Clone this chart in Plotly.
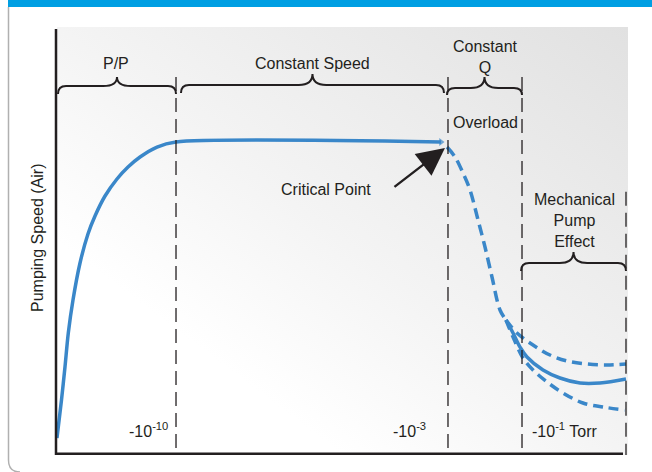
import base64
import plotly.graph_objects as go

# ---------------- data (abstract units: x = log-pressure position 0..100, y = pumping speed 0..100)
rise_x = [0.17, 0.96, 1.57, 2.15, 2.97, 4.20, 5.59, 6.82, 8.57, 10.66, 12.59, 14.69, 17.66, 20.98, 67.31]
rise_y = [3.97, 12.85, 20.56, 28.50, 36.21, 44.86, 51.64, 55.84, 60.51, 64.49, 67.29, 69.63, 71.96, 73.13, 73.13]

overload_x = [68.36, 69.76, 71.15, 72.38, 73.78, 75.00, 76.22, 77.62, 78.67]
overload_y = [71.96, 69.63, 65.89, 61.92, 54.91, 48.60, 41.59, 33.88, 31.54]

upper_x = [78.67, 80.59, 83.39, 86.36, 89.34, 92.83, 96.33, 99.65]
upper_y = [31.54, 28.50, 25.70, 23.36, 21.96, 21.26, 21.03, 21.26]

solid_x = [78.67, 79.90, 81.12, 82.34, 85.14, 88.11, 91.61, 95.10, 99.65]
solid_y = [31.54, 28.50, 25.23, 22.90, 19.86, 17.99, 16.82, 16.82, 17.76]

lower_x = [78.67, 79.90, 81.64, 83.39, 85.84, 88.64, 92.13, 95.63, 99.48]
lower_y = [31.54, 27.57, 22.66, 19.86, 17.06, 14.49, 12.15, 11.21, 10.51]

boundary_x = [20.98, 68.53, 81.47, 99.65]
pressure_labels = ["-10<sup>-10</sup>", "-10<sup>-3</sup>", "-10<sup>-1</sup> Torr"]

region_names = ["P/P", "Constant Speed", "Constant<br>Q", "Mechanical<br>Pump<br>Effect"]
region_start = [0.35, 21.85, 68.36, 81.3]
region_end = [20.98, 67.83, 81.47, 99.65]

critical_x, critical_y = 68.0, 71.73

# ---------------- styles
BLUE = "#3A87C9"
INK = "#231F20"
FONT = "Liberation Sans, Arial, Helvetica, sans-serif"
W, H = 652, 472
ML, MR, MT, MB = 56, 24, 27, 17
PW, PH = W - ML - MR, H - MT - MB


def px_x(px):
    return (px - ML) / PW


def px_y(py):
    return (H - MB - py) / PH


fig = go.Figure()

fig.add_trace(go.Scatter(x=rise_x, y=rise_y, mode="lines+markers",
                         line=dict(color=BLUE, width=3.5, shape="spline", smoothing=0.8),
                         marker=dict(symbol="triangle-right", size=[0] * (len(rise_x) - 1) + [7],
                                     color=BLUE, line=dict(width=0)),
                         hoverinfo="skip"))
fig.add_trace(go.Scatter(x=overload_x, y=overload_y, mode="lines",
                         line=dict(color=BLUE, width=3.5, dash="11px,6px", shape="spline"),
                         hoverinfo="skip"))
fig.add_trace(go.Scatter(x=upper_x, y=upper_y, mode="lines",
                         line=dict(color=BLUE, width=3.5, dash="10px,6px", shape="spline"),
                         hoverinfo="skip"))
fig.add_trace(go.Scatter(x=lower_x, y=lower_y, mode="lines",
                         line=dict(color=BLUE, width=3.5, dash="10px,6px", shape="spline"),
                         hoverinfo="skip"))
fig.add_trace(go.Scatter(x=solid_x, y=solid_y, mode="lines",
                         line=dict(color=BLUE, width=3.5, shape="spline"),
                         hoverinfo="skip"))

shapes = []
# header bar and frame
shapes.append(dict(type="rect", xref="paper", yref="paper", x0=px_x(8), x1=px_x(W + 2),
                   y0=px_y(7), y1=px_y(-2), fillcolor="#009FE3", line=dict(width=0), layer="below"))
shapes.append(dict(type="path", xref="paper", yref="paper",
                   path=f"M{px_x(8.5)},{px_y(7)} L{px_x(8.5)},{px_y(460)} Q{px_x(8.5)},{px_y(472)} {px_x(20)},{px_y(472)}",
                   line=dict(color="#B0B0B0", width=1.5)))
# axis lines
shapes.append(dict(type="line", xref="paper", yref="paper", x0=px_x(56), x1=px_x(56),
                   y0=px_y(29), y1=px_y(455), line=dict(color=INK, width=2.5)))
shapes.append(dict(type="line", xref="paper", yref="paper", x0=px_x(55), x1=px_x(623),
                   y0=px_y(453.8), y1=px_y(453.8), line=dict(color=INK, width=2.5)))
# region boundaries
tops = [88.3, 88.3, 88.3, 61.5]
for bx, top in zip(boundary_x, tops):
    shapes.append(dict(type="line", xref="x", yref="y", x0=bx, x1=bx, y0=top, y1=0,
                       line=dict(color=INK, width=1.3, dash="14px,7px")))


def brace(xa, xb, y_tip, y_bar, y_peak, r=1.4, rm=2.4):
    xm = (xa + xb) / 2
    return (f"M{xa},{y_tip} Q{xa},{y_bar} {xa + r},{y_bar} L{xm - rm},{y_bar} "
            f"Q{xm},{y_bar} {xm},{y_peak} Q{xm},{y_bar} {xm + rm},{y_bar} "
            f"L{xb - r},{y_bar} Q{xb},{y_bar} {xb},{y_tip}")


brace_y = [(84.35, 86.21, 88.32), (84.58, 86.45, 89.0), (84.11, 85.75, 88.32), (42.99, 44.86, 47.43)]
for xa, xb, (yt, yb, yp) in zip(region_start, region_end, brace_y):
    shapes.append(dict(type="path", xref="x", yref="y", path=brace(xa, xb, yt, yb, yp),
                       line=dict(color=INK, width=2)))

# gradient background
svg = ('<svg xmlns="http://www.w3.org/2000/svg" width="572" height="428" viewBox="0 0 572 428" '
       'preserveAspectRatio="none"><defs><linearGradient id="g" x1="0" y1="1" x2="1" y2="0">'
       '<stop offset="0" stop-color="#ffffff"/><stop offset="0.25" stop-color="#ffffff"/>'
       '<stop offset="0.5" stop-color="#f4f4f4"/><stop offset="1" stop-color="#e1e1e1"/>'
       '</linearGradient></defs><rect width="572" height="428" fill="url(#g)"/></svg>')
src = "data:image/svg+xml;base64," + base64.b64encode(svg.encode()).decode()

ann = []
tf = dict(family=FONT, size=16, color=INK)
label_pos = [(10.49, 91.36), (44.76, 91.36), (75.0, 93.1), (90.56, 54.9)]
for name, (lx, ly) in zip(region_names, label_pos):
    ann.append(dict(x=lx, y=ly, xref="x", yref="y", text=name, showarrow=False, font=tf))
ann.append(dict(x=75.0, y=77.8, xref="x", yref="y", text="Overload", showarrow=False, font=tf))
ann.append(dict(x=47.2, y=62.15, xref="x", yref="y", text="Critical Point", showarrow=False, font=tf))
ann.append(dict(x=critical_x, y=critical_y, xref="x", yref="y", text="", showarrow=True,
                ax=-52, ay=40, arrowhead=2, arrowsize=2.3, arrowwidth=2.4, arrowcolor=INK, standoff=0))
lab_x = [19.93, 65.03, 82.87]
anchors = ["right", "right", "left"]
for t, lx, an in zip(pressure_labels, lab_x, anchors):
    ann.append(dict(x=lx, y=5.84, xref="x", yref="y", text=t, showarrow=False, font=tf, xanchor=an))
ann.append(dict(x=px_x(37), y=px_y(238), xref="paper", yref="paper", text="Pumping Speed (Air)",
                textangle=-90, showarrow=False, font=tf, xanchor="center", yanchor="middle"))

fig.update_layout(
    width=W, height=H, margin=dict(l=ML, r=MR, t=MT, b=MB),
    paper_bgcolor="white", plot_bgcolor="rgba(0,0,0,0)", showlegend=False,
    xaxis=dict(range=[0, 100], visible=False, fixedrange=True),
    yaxis=dict(range=[0, 100], visible=False, fixedrange=True),
    shapes=shapes, annotations=ann,
    images=[dict(source=src, xref="paper", yref="paper", x=px_x(57), y=1, sizex=px_x(628) - px_x(57),
                 sizey=1, sizing="stretch", layer="below", xanchor="left", yanchor="top")],
)

fig.write_html("out.html", config={"displayModeBar": False},
               post_script="document.body.style.margin='0';document.body.style.overflow='hidden';")
